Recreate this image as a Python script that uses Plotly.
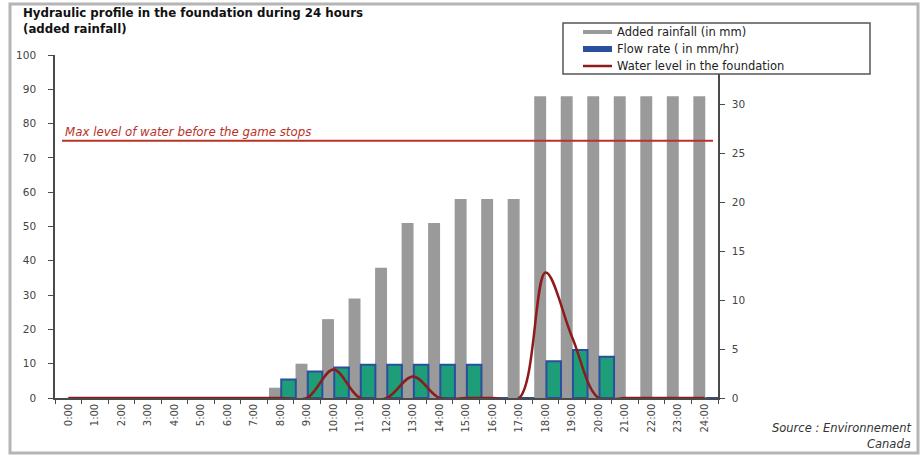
import plotly.graph_objects as go

HOURS = [f"{h}:00" for h in range(25)]
RAINFALL = [0, 0, 0, 0, 0, 0, 0, 0, 3, 10, 23, 29, 38, 51, 51, 58, 58, 58,
            88, 88, 88, 88, 88, 88, 88]
FLOW = [0, 0, 0, 0, 0, 0, 0, 0, 1.9, 2.7, 3.1, 3.4, 3.4, 3.4, 3.4, 3.4, 0, 0,
        3.75, 4.9, 4.2, 0, 0, 0, 0]
WATER = [0, 0, 0, 0, 0, 0, 0, 0, 0, 0, 2.9, 0, 0, 2.2, 0, 0, 0, 0,
         12.8, 6.2, 0, 0, 0, 0, 0]
MAX_LEVEL = 75
LEFT_TICKS = list(range(0, 101, 10))
RIGHT_TICKS = list(range(0, 31, 5))
LEGEND_NAMES = ["Added rainfall (in mm)", "Flow rate ( in mm/hr)",
                "Water level in the foundation"]

FONT = "DejaVu Sans, Verdana, sans-serif"
GRAY = "#9a9a9a"
BLUE = "#2a4f9e"
GREEN = "#1e9e78"
DARKRED = "#8e1b1b"
RED = "#b8322a"
AXIS = "#4a4a4a"

fig = go.Figure()

fig.add_trace(go.Bar(
    x=HOURS, y=RAINFALL, name=LEGEND_NAMES[0],
    marker=dict(color=GRAY, line=dict(width=0)),
    offset=-0.43, width=0.45, yaxis="y",
))
fig.add_trace(go.Bar(
    x=HOURS, y=FLOW, name=LEGEND_NAMES[1],
    marker=dict(color=GREEN, line=dict(color=BLUE, width=2)),
    offset=0.03, width=0.55, yaxis="y2",
))
fig.add_trace(go.Scatter(
    x=HOURS, y=WATER, name=LEGEND_NAMES[2], mode="lines",
    line=dict(color=DARKRED, width=2.5, shape="spline", smoothing=1.0),
    yaxis="y2",
))

L, R, T, B = 55, 205, 55, 58
W, H = 923, 456
pw, ph = W - L - R, H - T - B


def px(xp):
    return (xp - L) / pw


def py(yp):
    return (H - B - yp) / ph


shapes = [
    dict(type="line", xref="paper", x0=px(62), x1=px(713), yref="y",
         y0=MAX_LEVEL, y1=MAX_LEVEL, line=dict(color=RED, width=2)),
    dict(type="rect", xref="paper", yref="paper",
         x0=px(563), x1=px(870), y0=py(74), y1=py(23),
         fillcolor="white", line=dict(color="#555", width=1.5), layer="above"),
    dict(type="rect", xref="paper", yref="paper",
         x0=px(10), x1=px(918), y0=py(453), y1=py(4),
         line=dict(color="#b5b5b5", width=3), layer="below"),
]
annotations = [
    dict(text="<b>Hydraulic profile in the foundation during 24 hours</b>",
         xref="paper", yref="paper", x=px(21), y=py(13), xanchor="left", yanchor="middle",
         showarrow=False, font=dict(size=11.8, color="#111", family=FONT)),
    dict(text="<b>(added rainfall)</b>",
         xref="paper", yref="paper", x=px(21), y=py(28.5), xanchor="left", yanchor="middle",
         showarrow=False, font=dict(size=11.8, color="#111", family=FONT)),
    dict(text="<i>Max level of water before the game stops</i>",
         xref="paper", yref="y", x=px(63), y=MAX_LEVEL, xanchor="left", yanchor="bottom",
         yshift=0, showarrow=False, font=dict(size=11.8, color=RED, family=FONT)),
    dict(text="<i>Source : Environnement</i>",
         xref="paper", yref="paper", x=px(913), y=py(428), xanchor="right", yanchor="middle",
         showarrow=False, font=dict(size=11.5, color="#333", family=FONT)),
    dict(text="<i>Canada</i>",
         xref="paper", yref="paper", x=px(913), y=py(443.5), xanchor="right", yanchor="middle",
         showarrow=False, font=dict(size=11.5, color="#333", family=FONT)),
]

# manual legend (wide swatches like the original)
sw_colors = [GRAY, BLUE, DARKRED]
sw_widths = [4, 6, 2.5]
sw_y = [32, 49, 66]
for name, c, w, yy in zip(LEGEND_NAMES, sw_colors, sw_widths, sw_y):
    shapes.append(dict(type="line", xref="paper", yref="paper",
                       x0=px(583), x1=px(612), y0=py(yy), y1=py(yy),
                       line=dict(color=c, width=w), layer="above"))
    annotations.append(dict(text=name, xref="paper", yref="paper",
                            x=px(615), y=py(yy), xanchor="left", yanchor="middle",
                            showarrow=False, font=dict(size=11.5, color="#222", family=FONT)))

fig.update_layout(
    width=W, height=H,
    margin=dict(l=L, r=R, t=T, b=B),
    paper_bgcolor="white", plot_bgcolor="white",
    barmode="overlay",
    showlegend=False,
    font=dict(family=FONT, size=9, color="#333"),
    xaxis=dict(
        type="category", showline=True, linecolor=AXIS, linewidth=1.5,
        ticks="outside", ticklen=4, tickcolor=AXIS, tickson="boundaries",
        tickangle=-90, tickfont=dict(size=10, color="#444"),
        showgrid=False, zeroline=False, range=[-0.5, 24.5],
    ),
    yaxis=dict(
        range=[0, 100], tickvals=LEFT_TICKS, showline=True, linecolor=AXIS,
        linewidth=1.5, ticks="outside", ticklen=5, tickcolor=AXIS,
        ticklabelstandoff=10,
        showgrid=False, zeroline=False, tickfont=dict(size=10.5, color="#444"),
    ),
    yaxis2=dict(
        range=[0, 35.0], tickvals=RIGHT_TICKS, overlaying="y", side="right",
        showline=True, linecolor=AXIS, linewidth=1.5, ticks="outside",
        ticklen=5, tickcolor=AXIS, showgrid=False, zeroline=False,
        ticklabelstandoff=5,
        tickfont=dict(size=10.5, color="#444"),
    ),
    shapes=shapes,
    annotations=annotations,
)

fig.write_html("out.html", config={"displayModeBar": False},
               post_script="document.body.style.margin='0';document.body.style.overflow='hidden';")
